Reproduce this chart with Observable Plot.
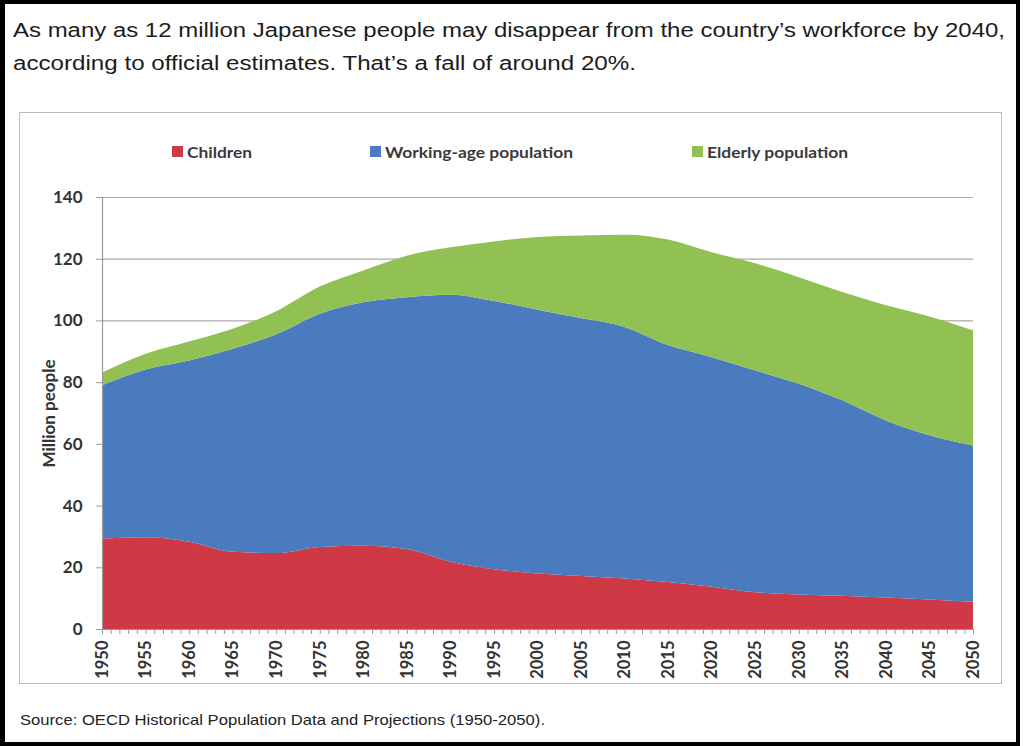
<!DOCTYPE html>
<html><head><meta charset="utf-8">
<script src="https://cdn.jsdelivr.net/npm/d3@7"></script>
<script src="https://cdn.jsdelivr.net/npm/@observablehq/plot@0.6"></script>
<style>
html,body{margin:0;padding:0;background:#fff;}
body{width:1024px;height:746px;position:relative;overflow:hidden;}
#frame{position:absolute;left:0;top:0;width:1020px;height:746px;box-sizing:border-box;border:4px solid #000;border-left-width:5px;}
.tl{position:absolute;left:13px;font-family:"Liberation Sans",Arial,sans-serif;font-size:20px;color:#1c1c1c;white-space:nowrap;display:inline-block;transform-origin:0 0;line-height:1;}
#box{position:absolute;left:19px;top:112px;width:983px;height:572px;box-sizing:border-box;border:1px solid #bdbdbd;}
#chart{position:absolute;left:20px;top:112px;}
.lg{position:absolute;top:142px;font-family:Lato,sans-serif;font-weight:bold;font-size:16px;color:#3a3a3a;white-space:nowrap;display:flex;align-items:center;}
.lg .tx{display:inline-block;transform-origin:0 50%;}
.sw{width:11px;height:11px;margin-right:4px;display:inline-block;}
#src{position:absolute;left:20px;top:711px;font-family:"Liberation Sans",Arial,sans-serif;font-size:15px;color:#222;white-space:nowrap;display:inline-block;transform-origin:0 0;}
</style>
</head><body>
<div id="frame"></div>
<div class="tl" id="t1" style="top:20px">As many as 12 million Japanese people may disappear from the country’s workforce by 2040,</div>
<div class="tl" id="t2" style="top:53px">according to official estimates. That’s a fall of around 20%.</div>
<div id="box"></div>
<div id="legend"></div>
<div id="chart"></div>
<div id="src">Source: OECD Historical Population Data and Projections (1950-2050).</div>
<script>
const years = [1950,1955,1960,1965,1970,1975,1980,1985,1990,1995,2000,2005,2010,2015,2020,2025,2030,2035,2040,2045,2050];
const children = [29.3,29.7,28.3,25.0,24.6,26.6,27.0,25.9,21.8,19.4,18.0,17.2,16.4,15.2,13.7,11.9,11.2,10.8,10.2,9.6,8.8];
const working = [49.7,54.4,58.7,65.8,70.9,75.6,78.9,81.6,86.5,86.9,85.5,83.6,81.5,76.8,74.4,71.9,68.3,63.3,57.4,53.2,50.7];
const elderly = [4.1,5.1,6.2,6.5,7.5,8.8,10.3,13.5,15.4,19.3,23.5,26.7,29.9,34.2,34.0,34.7,34.5,35.1,37.3,38.5,37.3];
const seriesNames = ["Children","Working-age population","Elderly population"];
const seriesColors = ["#cf3845","#4a7bbf","#92c153"];
const yTicks = [0,20,40,60,80,100,120,140];
const xLabelTicks = d3.range(1950,2051,5);
const xMinorTicks = d3.range(1950,2051,1);

const rows = [];
[children,working,elderly].forEach((arr,si)=>arr.forEach((v,i)=>rows.push({year:years[i],value:v,series:seriesNames[si]})));

// legend
const legendX = [172,370,692];
const legendW = [65,188,141];
const lg = document.getElementById("legend");
seriesNames.forEach((n,i)=>{
  const d = document.createElement("div");
  d.className="lg"; d.style.left = legendX[i]+"px";
  d.innerHTML = `<span class="sw" style="background:${seriesColors[i]}"></span><span class="tx">${n}</span>`;
  lg.appendChild(d);
  const tx = d.querySelector(".tx");
  const w = tx.getBoundingClientRect().width;
  tx.style.transform = `scaleX(${legendW[i]/w})`;
});

const chart = Plot.plot({
  width: 982, height: 572,
  marginLeft: 82, marginRight: 29, marginTop: 85, marginBottom: 55,
  style:{fontFamily:"Lato, sans-serif", fontSize:"16px", fontWeight:"bold", color:"#333", background:"transparent", overflow:"visible"},
  x:{type:"linear", domain:[1950,2050], label:null},
  y:{domain:[0,140], label:null},
  color:{domain:seriesNames, range:seriesColors},
  marks:[
    Plot.ruleY(yTicks.slice(1), {stroke:"#a8a8a8", strokeWidth:1.2}),
    Plot.areaY(rows, {x:"year", y:"value", fill:"series", order:seriesNames, curve:"monotone-x"}),
    Plot.ruleX([1950], {stroke:"#9a9a9a", strokeWidth:1.2}),
    Plot.ruleY([0], {stroke:"#9a9a9a", strokeWidth:1.2}),
    Plot.axisY({ticks:yTicks, tickSize:6, tickPadding:14, stroke:"#9a9a9a", label:"Million people", labelAnchor:"center", labelArrow:"none", labelOffset:60, fontSize:17}),
    Plot.axisX({ticks:xMinorTicks, tickSize:5, tickFormat:()=>"", stroke:"#9a9a9a", label:null}),
    Plot.axisX({ticks:xLabelTicks, tickSize:0, tickPadding:11, tickRotate:-90, tickFormat:d=>String(d), label:null, fontSize:16.5})
  ]
});
document.getElementById("chart").appendChild(chart);

function fit(id,w){const el=document.getElementById(id);const r=el.getBoundingClientRect().width;el.style.transform=`scaleX(${w/r})`;}
fit("t1",992); fit("t2",623); fit("src",525);
</script>
</body></html>
